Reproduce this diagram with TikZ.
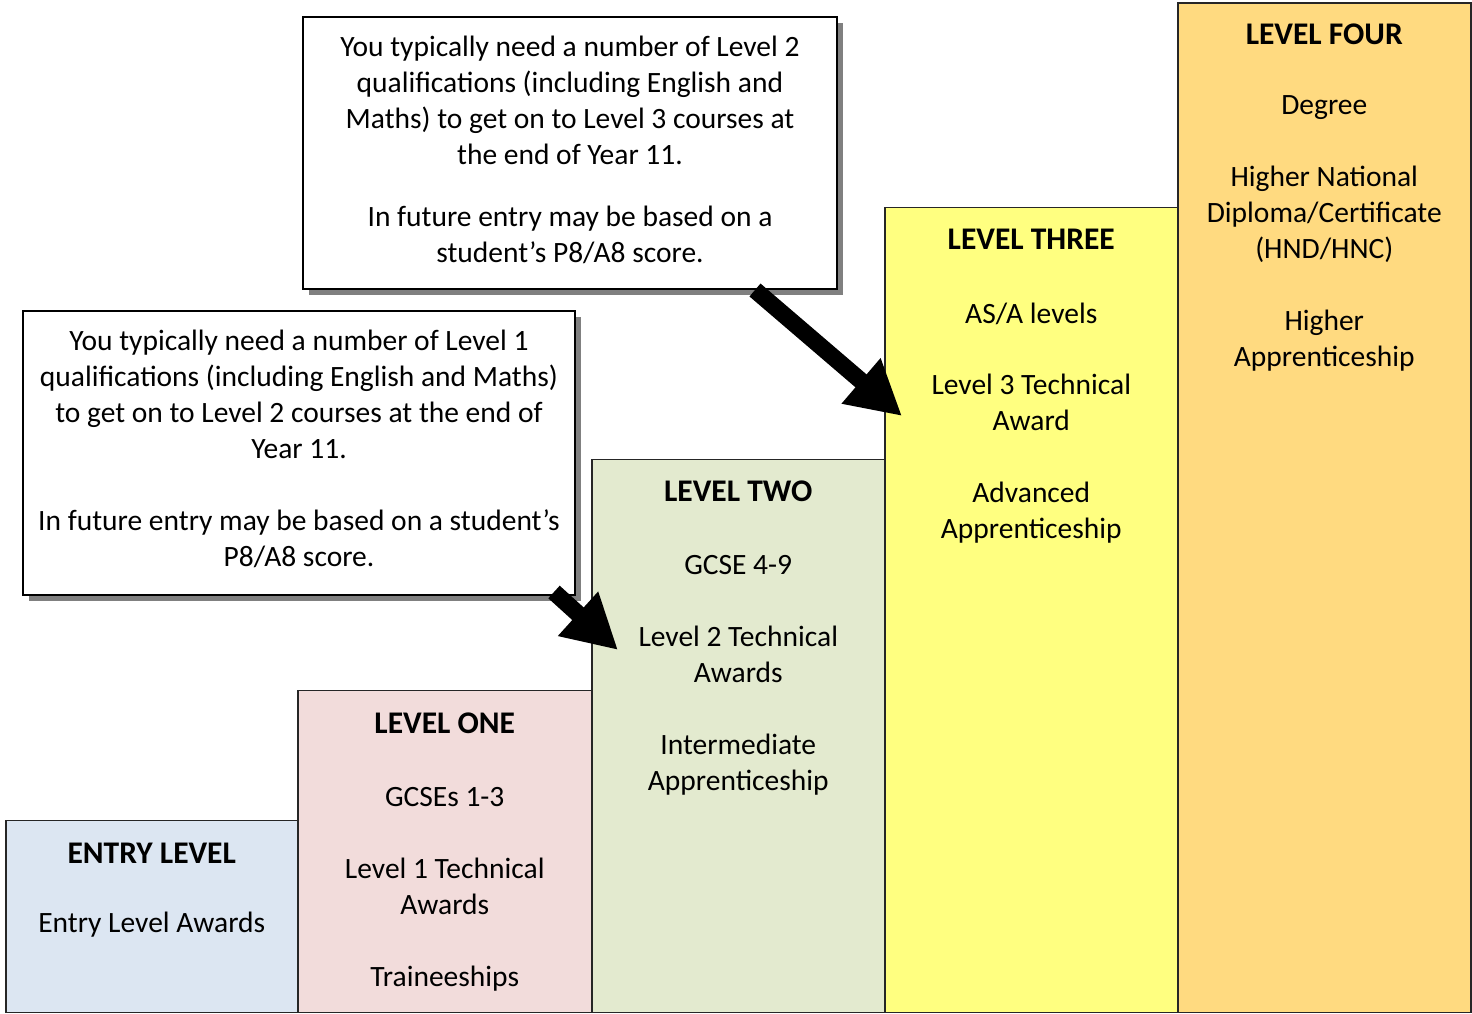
\documentclass[tikz,border=0pt]{standalone}
\usepackage{fontspec}
\setmainfont{Carlito}
\usepackage{tikz}
\usetikzlibrary{arrows.meta, positioning, shadows}
\usepackage{xcolor}
\definecolor{entryfill}{RGB}{220, 230, 242}
\definecolor{onefill}{RGB}{242, 220, 219}
\definecolor{twofill}{RGB}{227, 234, 207}
\definecolor{threefill}{RGB}{255, 255, 128}
\definecolor{fourfill}{RGB}{255, 218, 128}
\definecolor{shadowgrey}{RGB}{128, 128, 128}
\newcommand{\bodysize}{\fontsize{29.5}{36}\selectfont}
\newcommand{\lvltitle}[1]{{\fontsize{31.5}{36}\selectfont\bfseries #1}}
\tikzset{
    levelbox/.style={rectangle, draw=black!85, line width=1.5pt, anchor=south west, inner sep=0pt},
    leveltext/.style={anchor=north, align=center, inner sep=0pt, font=\bodysize},
    callout/.style={rectangle, draw=black, line width=2pt, fill=white, inner sep=0pt, drop shadow={shadow xshift=6pt, shadow yshift=-6pt, fill=shadowgrey, opacity=1}},
    callouttext/.style={align=center, inner sep=0pt, font=\bodysize},
    blockarrow/.style={line width=17pt, -{Triangle[length=54pt, width=56pt]}}
}

\begin{document}
\begin{tikzpicture}[x=1pt, y=-1pt]
        \useasboundingbox (0,0) rectangle (1472,1014);

        % Level boxes (staircase)
        \node[levelbox, fill=entryfill, minimum width=292pt, minimum height=192pt] (entry) at (5,1013) {};
        \node[levelbox, fill=onefill, minimum width=294pt, minimum height=322pt] (one) at (297,1013) {};
        \node[levelbox, fill=twofill, minimum width=293pt, minimum height=553pt] (two) at (591,1013) {};
        \node[levelbox, fill=threefill, minimum width=293pt, minimum height=805pt] (three) at (884,1013) {};
        \node[levelbox, fill=fourfill, minimum width=293pt, minimum height=1009pt] (four) at (1177,1013) {};

        % Level contents
        \node[leveltext, below=23pt of entry.north] (entrytext) {\lvltitle{ENTRY LEVEL}\\[33pt]Entry Level Awards};
        \node[leveltext, below=23pt of one.north] (onetext) {\lvltitle{LEVEL ONE}\\[37pt]GCSEs 1-3\\[36pt]Level 1 Technical\\Awards\\[36pt]Traineeships};
        \node[leveltext, below=22pt of two.north] (twotext) {\lvltitle{LEVEL TWO}\\[37pt]GCSE 4-9\\[36pt]Level 2 Technical\\Awards\\[36pt]Intermediate\\Apprenticeship};
        \node[leveltext, below=22pt of three.north] (threetext) {\lvltitle{LEVEL THREE}\\[38pt]AS/A levels\\[35pt]Level 3 Technical\\Award\\[36pt]Advanced\\Apprenticeship};
        \node[leveltext, below=21pt of four.north] (fourtext) {\lvltitle{LEVEL FOUR}\\[34pt]Degree\\[36pt]Higher National\\Diploma/Certificate\\(HND/HNC)\\[36pt]Higher\\Apprenticeship};

        % Entry requirement callouts
        \node[callout, minimum width=534pt, minimum height=272pt] (callA) at (570,153) {};
        \node[callouttext, yshift=3pt] (callAtext) at (callA.center) {You typically need a number of Level 2\\qualifications (including English and\\Maths) to get on to Level 3 courses at\\the end of Year 11.\\[26pt]In future entry may be based on a\\student’s P8/A8 score.};
        \node[callout, minimum width=552pt, minimum height=284pt] (callB) at (299,453) {};
        \node[callouttext, yshift=4pt] (callBtext) at (callB.center) {You typically need a number of Level 1\\qualifications (including English and Maths)\\to get on to Level 2 courses at the end of\\Year 11.\\[36pt]In future entry may be based on a student’s\\P8/A8 score.};

        % Arrows into the next level
        \coordinate (tipthree) at (902,416);
        \coordinate (tiptwo) at (618,650);
        \draw[blockarrow] ([xshift=-83pt]callA.south east) -- (tipthree);
        \draw[blockarrow] ([xshift=-22pt, yshift=4pt]callB.south east) -- (tiptwo);
    \end{tikzpicture}
\end{document}
